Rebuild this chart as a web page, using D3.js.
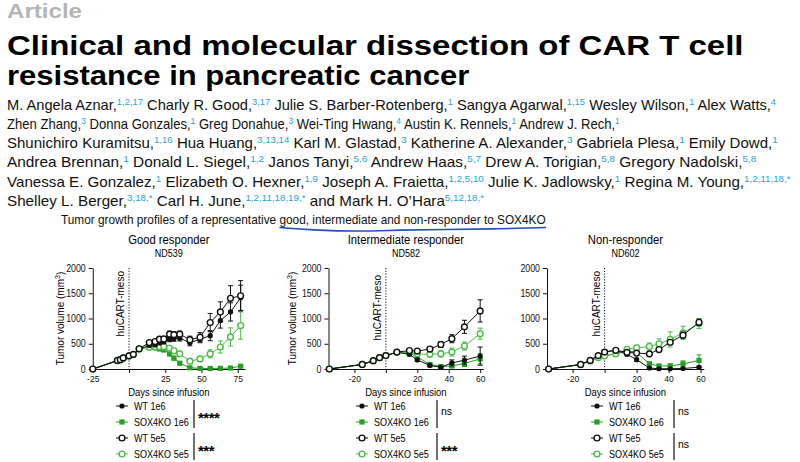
<!DOCTYPE html>
<html><head><meta charset="utf-8">
<script src="https://cdn.jsdelivr.net/npm/d3@7"></script>
<style>
body{margin:0;background:#fff}
svg{display:block;font-family:"Liberation Sans",Arial,sans-serif}
</style>
</head><body>
<script>
// ---- header text ----
let authorLines = [
    [["M. Angela Aznar,","1,2,17"],["Charly R. Good,","3,17"],["Julie S. Barber-Rotenberg,","1"],["Sangya Agarwal,","1,15"],["Wesley Wilson,","1"],["Alex Watts,","4"]],
    [["Zhen Zhang,","3"],["Donna Gonzales,","1"],["Greg Donahue,","3"],["Wei-Ting Hwang,","4"],["Austin K. Rennels,","1"],["Andrew J. Rech,","1"]],
    [["Shunichiro Kuramitsu,","1,16"],["Hua Huang,","3,13,14"],["Karl M. Glastad,","3"],["Katherine A. Alexander,","3"],["Gabriela Plesa,","1"],["Emily Dowd,","1"]],
    [["Andrea Brennan,","1"],["Donald L. Siegel,","1,2"],["Janos Tanyi,","5,6"],["Andrew Haas,","5,7"],["Drew A. Torigian,","5,8"],["Gregory Nadolski,","5,8"]],
    [["Vanessa E. Gonzalez,","1"],["Elizabeth O. Hexner,","1,9"],["Joseph A. Fraietta,","1,2,5,10"],["Julie K. Jadlowsky,","1"],["Regina M. Young,","1,2,11,18,*"]],
    [["Shelley L. Berger,","3,18,*"],["Carl H. June,","1,2,11,18,19,*"],["and Mark H. O\u2019Hara","5,12,18,*"]]
];
let authorRight = [777, 620, 778, 757, 792, 485];
let titleLines = ["Clinical and molecular dissection of CAR T cell", "resistance in pancreatic cancer"];
let subtitle = ["Tumor growth profiles of a representative ", "good, intermediate and non-responder to SOX4KO"];

// ---- data: days and tumor volume (mean, sem) ----
let days1 = [-25, -8, -6, -4, 0, 3, 7, 14, 18, 21, 24, 28, 31, 35, 42, 49, 56, 63, 70, 77];
let wt1e6_1 = [0, 165, 180, 215, 255, 285, 390, 470, 480, 520, 540, 590, 600, 610, 520, 590, 660, 960, 1130, 1410];
let wt1e6_1e = [0, 20, 20, 25, 25, 25, 30, 35, 40, 40, 40, 50, 50, 55, 60, 70, 100, 150, 180, 250];
let ko1e6_1 = [0, 160, 175, 210, 250, 280, 400, 440, 420, 400, 380, 300, 215, 115, 25, 12, 10, 12, 20, 55];
let ko1e6_1e = [0, 15, 15, 20, 20, 25, 30, 35, 35, 40, 40, 40, 35, 30, 10, 8, 8, 8, 10, 15];
let wt5e5_1 = [0, 170, 185, 220, 260, 290, 400, 525, 545, 590, 595, 690, 680, 690, 580, 630, 920, 1130, 1400, 1450];
let wt5e5_1e = [0, 20, 20, 25, 25, 30, 30, 40, 40, 45, 45, 60, 60, 60, 70, 90, 180, 200, 250, 300];
let ko5e5_1 = [0, 165, 180, 215, 255, 285, 400, 430, 440, 445, 445, 410, 360, 300, 155, 200, 300, 435, 635, 860];
let ko5e5_1e = [0, 15, 15, 20, 20, 25, 30, 35, 35, 40, 40, 40, 40, 35, 30, 50, 80, 120, 180, 270];

let days2 = [-36, -15, -8, -4, 0, 7, 15, 20, 28, 35, 42, 50, 60];
let wt1e6_2 = [0, 90, 165, 225, 265, 330, 290, 180, 70, 35, 120, 175, 255];
let wt1e6_2e = [0, 15, 20, 25, 30, 30, 30, 30, 25, 15, 60, 80, 180];
let ko1e6_2 = [0, 90, 160, 220, 270, 330, 320, 240, 90, 50, 60, 110, 200];
let ko1e6_2e = [0, 15, 20, 25, 30, 30, 30, 30, 25, 20, 30, 60, 100];
let wt5e5_2 = [0, 90, 165, 225, 265, 335, 365, 355, 395, 485, 600, 835, 1150];
let wt5e5_2e = [0, 15, 20, 25, 30, 30, 35, 35, 40, 60, 80, 130, 220];
let ko5e5_2 = [0, 90, 165, 225, 265, 330, 330, 300, 290, 300, 335, 455, 700];
let ko5e5_2e = [0, 15, 20, 25, 30, 30, 30, 35, 50, 60, 80, 80, 110];

let days3 = [-35, -15, -9, -4, 0, 7, 14, 20, 28, 34, 41, 49, 59];
let wt1e6_3 = [0, 90, 170, 270, 340, 370, 290, 185, 20, 5, 5, 10, 35];
let wt1e6_3e = [0, 15, 20, 25, 30, 30, 30, 30, 10, 5, 5, 5, 10];
let ko1e6_3 = [0, 85, 165, 230, 270, 300, 360, 330, 100, 60, 60, 100, 170];
let ko1e6_3e = [0, 15, 20, 25, 30, 30, 35, 40, 40, 30, 40, 60, 110];
let wt5e5_3 = [0, 90, 170, 265, 335, 370, 330, 315, 300, 385, 530, 670, 925];
let wt5e5_3e = [0, 15, 20, 25, 30, 30, 30, 30, 30, 40, 50, 60, 60];
let ko5e5_3 = [0, 85, 160, 225, 260, 300, 390, 420, 445, 500, 585, 715, 900];
let ko5e5_3e = [0, 15, 20, 25, 30, 30, 40, 50, 70, 100, 150, 130, 100];

let seriesNames = ["WT 1e6", "SOX4KO 1e6", "WT 5e5", "SOX4KO 5e5"];
let yTicks = [0, 500, 1000, 1500, 2000];
let titles = ["Good responder", "Intermediate responder", "Non-responder"];
let donors = ["ND539", "ND582", "ND602"];
let xTicks = [[-25, 0, 25, 50, 75], [-20, 0, 20, 40, 60], [-20, 0, 20, 40, 60]];
let xDomains = [[-25, 80], [-36.5, 62], [-36, 62]];
let sigLabels = [["****", "***"], ["ns", "***"], ["ns", "ns"]];

generateFigure();

function generateFigure(){
    let width = 800, height = 462;
    let black = "#111", green = "#24a024", lightGreen = "#4dbb4a", blue = "#2a9fd6";

    let svg = d3.select("body").append("svg")
        .attr("width", width)
        .attr("height", height);
    svg.append("rect").attr("width", width).attr("height", height).attr("fill", "#fff");

    // stretch a text element so it spans a given width
    function fit(sel, x, y, w){
        let bw = sel.node().getBBox().width;
        sel.attr("transform", `translate(${x},${y}) scale(${w / bw},1)`);
    }
    // narrow plain texts a little, the source figure uses a condensed face
    function squeeze(sel, f){
        sel.each(function(){
            let l = this.getComputedTextLength();
            if(l > 0) d3.select(this).attr("textLength", l * f).attr("lengthAdjust", "spacingAndGlyphs");
        });
    }

    fit(svg.append("text").attr("font-size", 21).attr("font-weight", "bold")
        .attr("fill", "#b5b5b5").text("Article"), 7, 18, 75);
    fit(svg.append("text").attr("font-size", 27).attr("font-weight", "bold")
        .text(titleLines[0]), 7, 54.5, 737);
    fit(svg.append("text").attr("font-size", 27).attr("font-weight", "bold")
        .text(titleLines[1]), 7, 85, 463);

    authorLines.forEach((line, i) => {
        let t = svg.append("text").attr("font-size", 14).style("white-space", "pre");
        line.forEach(([name, sup], k) => {
            t.append("tspan").attr("dy", k === 0 ? 0 : 5).attr("fill", "#111")
                .text((k === 0 ? "" : " ") + name);
            t.append("tspan").attr("dy", -5).attr("font-size", 9).attr("fill", blue).text(sup);
        });
        fit(t, 7, 109.5 + i * 19.3, authorRight[i] - 7);
    });

    let subX = 61, subW = 485;
    let st = svg.append("text").attr("font-size", 13).style("white-space", "pre").attr("fill", "#111");
    st.append("tspan").text(subtitle[0]);
    let stB = st.append("tspan").text(subtitle[1]);
    fit(st, subX, 223.5, subW);

    // hand-drawn underline below the second half of the subtitle
    let ul = [[0, 2], [0.12, 4.5], [0.3, 6], [0.45, 4.5], [0.62, 4], [0.8, 3.5], [1, 2]];
    let bb = stB.node().getBBox(), sc = subW / st.node().getBBox().width;
    let ux0 = subX + bb.x * sc, uw = bb.width * sc;
    svg.append("path")
        .attr("d", d3.line().curve(d3.curveBasis)(ul.map(([f, dy]) => [ux0 + f * uw, 225.5 + dy])))
        .attr("fill", "none").attr("stroke", "#1f4fbf").attr("stroke-width", 1.6);

    let panels = [
        {days: days1, s: [[wt1e6_1, wt1e6_1e], [ko1e6_1, ko1e6_1e], [wt5e5_1, wt5e5_1e], [ko5e5_1, ko5e5_1e]],
         range: [92.75, 245], ylab: 61, legendX: 122, bracketX: 194},
        {days: days2, s: [[wt1e6_2, wt1e6_2e], [ko1e6_2, ko1e6_2e], [wt5e5_2, wt5e5_2e], [ko5e5_2, ko5e5_2e]],
         range: [328.5, 483.3], ylab: 293, legendX: 362, bracketX: 437},
        {days: days3, s: [[wt1e6_3, wt1e6_3e], [ko1e6_3, ko1e6_3e], [wt5e5_3, wt5e5_3e], [ko5e5_3, ko5e5_3e]],
         range: [547, 703.8], ylab: null, legendX: 597, bracketX: 674}
    ];
    let styles = [
        {color: black, shape: "circle", fill: true},
        {color: green, shape: "square", fill: true},
        {color: black, shape: "circle", fill: false},
        {color: lightGreen, shape: "circle", fill: false}
    ];

    let y = d3.scaleLinear().domain([0, 2000]).range([369, 268]);

    function marker(g, st, cx, cy){
        if(st.shape === "square"){
            g.append("rect").attr("x", cx - 2.6).attr("y", cy - 2.6).attr("width", 5.2).attr("height", 5.2)
                .attr("fill", st.color);
        } else {
            g.append("circle").attr("cx", cx).attr("cy", cy).attr("r", st.fill ? 2.6 : 2.9)
                .attr("fill", st.fill ? st.color : "#fff")
                .attr("stroke", st.color).attr("stroke-width", st.fill ? 0 : 1.4);
        }
    }

    panels.forEach((p, pi) => {
        let x = d3.scaleLinear().domain(xDomains[pi]).range(p.range);
        let g = svg.append("g");
        let cx = (p.range[0] + p.range[1]) / 2;

        g.append("text").attr("x", cx).attr("y", 244).attr("text-anchor", "middle")
            .attr("font-size", 12.5).text(titles[pi]).call(squeeze, 0.9);
        g.append("text").attr("x", cx).attr("y", 256.5).attr("text-anchor", "middle")
            .attr("font-size", 10).text(donors[pi]).call(squeeze, 0.9);

        g.append("g")
            .attr("transform", `translate(${p.range[0]},0)`)
            .call(d3.axisLeft(y).tickValues(yTicks).tickSize(4).tickSizeOuter(0).tickFormat(d3.format("d")))
            .call(a => a.selectAll("text").attr("font-size", 10).attr("font-family", null).attr("fill", "#111"))
            .call(a => a.selectAll("text").call(squeeze, 0.88))
            .call(a => a.selectAll("line,path").attr("stroke", "#111"));

        g.append("g")
            .attr("transform", `translate(0,${y(0)})`)
            .call(d3.axisBottom(x).tickValues(xTicks[pi]).tickSize(4).tickPadding(2).tickSizeOuter(0)
                .tickFormat(d => d === 0 ? "" : d))
            .call(a => a.selectAll("text").attr("font-size", 9.5).attr("font-family", null).attr("fill", "#111"))
            .call(a => a.selectAll("text").call(squeeze, 0.9))
            .call(a => a.selectAll("line,path").attr("stroke", "#111"));

        g.append("text").attr("x", cx).attr("y", 396).attr("text-anchor", "middle")
            .attr("font-size", 10.5).text("Days since infusion").call(squeeze, 0.9);

        if(p.ylab !== null){
            let t = g.append("text").attr("transform", `translate(${p.ylab + 3},${y(1000)}) rotate(-90)`)
                .attr("text-anchor", "middle").attr("font-size", 10);
            t.append("tspan").text("Tumor volume (mm");
            t.append("tspan").attr("dy", -4).attr("font-size", 7).text("3");
            t.append("tspan").attr("dy", 4).text(")");
        }

        // infusion marker
        g.append("line").attr("x1", x(0)).attr("x2", x(0)).attr("y1", y(2000)).attr("y2", y(0))
            .attr("stroke", "#111").attr("stroke-dasharray", "1.2,1.6");
        g.append("text").attr("transform", `translate(${x(0) - 5},${y(2000) + 3 + (pi === 1 ? 4 : 0)}) rotate(-90)`)
            .attr("text-anchor", "end").attr("font-size", 10).text("huCART-meso");

        // series: green behind black
        [1, 3, 0, 2].forEach(si => {
            let st = styles[si], [vals, errs] = p.s[si];
            let pts = p.days.map((d, i) => ({d, v: vals[i], e: errs[i]}));
            let sg = g.append("g");
            pts.filter(q => q.e > 0).forEach(q => {
                let px = x(q.d);
                sg.append("path")
                    .attr("d", `M${px},${y(q.v - q.e)}V${y(q.v + q.e)}M${px - 2.5},${y(q.v + q.e)}h5M${px - 2.5},${y(q.v - q.e)}h5`)
                    .attr("stroke", st.color).attr("stroke-width", 1).attr("fill", "none");
            });
            sg.append("path")
                .attr("d", d3.line().x(q => x(q.d)).y(q => y(q.v))(pts))
                .attr("fill", "none").attr("stroke", st.color).attr("stroke-width", 1);
            pts.forEach(q => marker(sg, st, x(q.d), y(q.v)));
        });

        // legend
        let rows = [406, 422, 438, 454];
        seriesNames.forEach((name, i) => {
            let st = styles[i];
            g.append("line").attr("x1", p.legendX - 6).attr("x2", p.legendX + 6)
                .attr("y1", rows[i]).attr("y2", rows[i]).attr("stroke", st.color).attr("stroke-width", 1);
            marker(g, st, p.legendX, rows[i]);
            g.append("text").attr("x", p.legendX + 12).attr("y", rows[i]).attr("dy", "0.36em")
                .attr("font-size", 10.5).text(name).call(squeeze, 0.86);
        });
        [[400, 428], [433, 460]].forEach(([a, b], k) => {
            g.append("line").attr("x1", p.bracketX).attr("x2", p.bracketX).attr("y1", a).attr("y2", b)
                .attr("stroke", "#111").attr("stroke-width", 1.2);
            let lab = sigLabels[pi][k], star = lab.startsWith("*");
            g.append("text").attr("x", p.bracketX + 4).attr("y", (a + b) / 2)
                .attr("dy", star ? "0.62em" : "0.1em")
                .attr("font-size", star ? 15 : 10.5).attr("font-weight", star ? "bold" : "normal")
                .attr("letter-spacing", star ? -0.5 : 0).text(lab);
        });
    });
}
</script>
</body></html>
